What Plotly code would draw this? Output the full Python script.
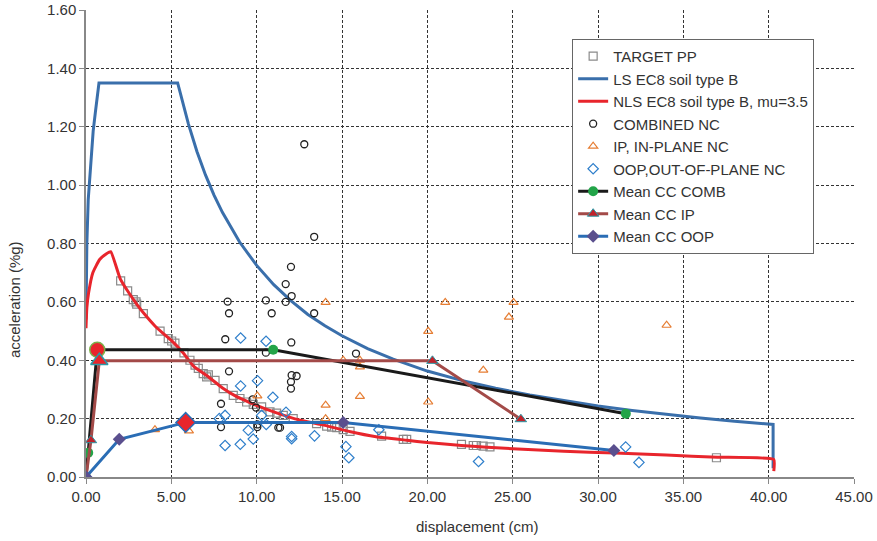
import plotly.graph_objects as go

# ---------------- data ----------------
target_x = [2.03, 2.44, 2.77, 2.93, 2.97, 3.36, 4.34, 4.82, 5.02, 5.21, 5.74, 6.09, 6.39, 6.58,
            6.87, 7.07, 7.17, 7.56, 8.04, 8.63, 9.02, 9.41, 9.80, 10.29, 10.78, 11.17, 11.56,
            12.14, 13.51, 14.10, 14.39, 14.69, 15.07, 15.47, 17.32, 18.59, 18.79, 22.0, 22.69,
            22.88, 23.27, 23.67, 36.94]
target_y = [0.672, 0.638, 0.608, 0.600, 0.592, 0.560, 0.500, 0.474, 0.466, 0.459, 0.425, 0.400,
            0.383, 0.372, 0.354, 0.343, 0.350, 0.331, 0.303, 0.280, 0.269, 0.257, 0.249, 0.240,
            0.223, 0.219, 0.211, 0.200, 0.183, 0.174, 0.171, 0.169, 0.162, 0.156, 0.140, 0.129,
            0.129, 0.112, 0.108, 0.108, 0.106, 0.103, 0.066]

ls_x = [0.0, 0.006, 0.05, 0.13, 0.27, 0.42, 0.55, 0.76, 5.37, 5.6, 6.0, 6.5, 7.0, 7.5, 8.0,
        9.0, 10.0, 11.0, 12.0, 13.0, 14.0, 15.0, 16.5, 18.0, 20.0, 22.0, 24.0, 26.0, 28.0,
        30.0, 32.0, 34.0, 36.0, 38.0, 40.26, 40.26]
ls_y = [0.54, 0.648, 0.80, 0.95, 1.08, 1.185, 1.25, 1.35, 1.35, 1.30, 1.21, 1.115, 1.035,
        0.966, 0.906, 0.805, 0.725, 0.659, 0.604, 0.557, 0.518, 0.484, 0.44, 0.404, 0.363,
        0.331, 0.304, 0.281, 0.261, 0.243, 0.228, 0.214, 0.202, 0.191, 0.18, 0.03]

nls_x = [0.0, 0.05, 0.15, 0.4, 0.8, 1.2, 1.45, 2.0, 2.5, 3.0, 3.5, 4.0, 4.5, 5.0, 5.7, 6.3,
         7.2, 8.0, 8.8, 9.8, 11.0, 12.2, 14.0, 15.5, 17.0, 18.8, 20.0, 22.0, 25.0, 28.0,
         31.0, 34.0, 37.0, 40.3, 40.3]
nls_y = [0.51, 0.58, 0.63, 0.70, 0.745, 0.765, 0.772, 0.68, 0.632, 0.59, 0.553, 0.52, 0.493,
         0.468, 0.425, 0.38, 0.342, 0.305, 0.276, 0.25, 0.223, 0.20, 0.177, 0.155, 0.138,
         0.126, 0.118, 0.108, 0.097, 0.088, 0.082, 0.075, 0.068, 0.06, 0.02]

comb_x = [12.79, 13.37, 12.01, 11.70, 12.05, 11.70, 10.54, 8.30, 8.38, 10.88, 13.37, 8.16,
          12.03, 10.54, 15.82, 8.38, 12.05, 12.34, 12.01, 12.01, 7.91, 9.76, 9.96, 7.91,
          10.04, 10.04, 11.27, 11.37]
comb_y = [1.14, 0.823, 0.72, 0.661, 0.62, 0.60, 0.605, 0.601, 0.561, 0.561, 0.561, 0.472,
          0.461, 0.426, 0.423, 0.362, 0.349, 0.346, 0.326, 0.303, 0.251, 0.266, 0.238, 0.171,
          0.180, 0.171, 0.169, 0.169]

ip_x = [0.0, 4.04, 6.03, 10.04, 14.04, 14.04, 14.04, 15.07, 16.05, 16.05, 16.05, 20.05,
        20.05, 21.05, 23.28, 24.78, 25.05, 34.02]
ip_y = [0.0, 0.162, 0.158, 0.278, 0.598, 0.246, 0.20, 0.40, 0.40, 0.377, 0.276, 0.499,
        0.257, 0.598, 0.366, 0.548, 0.598, 0.52]

oop_x = [0.0, 9.06, 10.55, 9.06, 10.05, 10.95, 7.81, 8.15, 10.29, 11.72, 10.56, 9.51, 9.80,
         8.15, 9.04, 12.05, 12.05, 13.39, 15.23, 15.40, 17.16, 23.0, 31.62, 32.4]
oop_y = [0.0, 0.476, 0.465, 0.312, 0.330, 0.273, 0.20, 0.211, 0.211, 0.222, 0.18, 0.16,
         0.130, 0.108, 0.112, 0.139, 0.131, 0.141, 0.104, 0.066, 0.162, 0.053, 0.103, 0.050]

mcomb_x = [0.0, 0.13, 0.66, 10.97, 31.63]
mcomb_y = [0.0, 0.083, 0.436, 0.436, 0.217]
mip_x = [0.0, 0.29, 0.78, 20.3, 25.48]
mip_y = [0.0, 0.126, 0.398, 0.398, 0.198]
moop_x = [0.0, 1.95, 5.84, 15.07, 30.93]
moop_y = [0.0, 0.129, 0.187, 0.187, 0.091]
# index of the emphasised (yield) point in each mean curve
yield_idx = 2

x_ticks = [0, 5, 10, 15, 20, 25, 30, 35, 40, 45]
y_ticks = [0, 0.2, 0.4, 0.6, 0.8, 1.0, 1.2, 1.4, 1.6]

# ---------------- figure ----------------
fig = go.Figure()

fig.add_trace(go.Scatter(x=target_x, y=target_y, mode="markers", name="TARGET PP",
                         marker=dict(symbol="square-open", size=8, color="#8a8a8a",
                                     line=dict(width=1.2))))
fig.add_trace(go.Scatter(x=ls_x, y=ls_y, mode="lines", name="LS EC8 soil type B",
                         line=dict(color="#3a6fab", width=3)))
fig.add_trace(go.Scatter(x=nls_x, y=nls_y, mode="lines", name="NLS EC8 soil type B, mu=3.5",
                         line=dict(color="#e8252c", width=3, shape="spline", smoothing=0.4)))
fig.add_trace(go.Scatter(x=comb_x, y=comb_y, mode="markers", name="COMBINED NC",
                         marker=dict(symbol="circle-open", size=7, color="#222222",
                                     line=dict(width=1.3))))
fig.add_trace(go.Scatter(x=ip_x, y=ip_y, mode="markers", name="IP, IN-PLANE NC",
                         marker=dict(symbol="triangle-up-open", size=8, color="#e67e34",
                                     line=dict(width=1.2))))
fig.add_trace(go.Scatter(x=oop_x, y=oop_y, mode="markers", name="OOP,OUT-OF-PLANE NC",
                         marker=dict(symbol="diamond-open", size=8, color="#2f7fcb",
                                     line=dict(width=1.2))))
fig.add_trace(go.Scatter(x=mcomb_x, y=mcomb_y, mode="lines+markers", name="Mean CC COMB",
                         line=dict(color="#1a1a1a", width=3),
                         marker=dict(symbol="circle", size=10, color="#22a448")))
fig.add_trace(go.Scatter(x=mip_x, y=mip_y, mode="lines+markers", name="Mean CC IP",
                         line=dict(color="#a34a48", width=3),
                         marker=dict(symbol="triangle-up", size=10, color="#c0232b",
                                     line=dict(color="#2a9aa8", width=1))))
fig.add_trace(go.Scatter(x=moop_x, y=moop_y, mode="lines+markers", name="Mean CC OOP",
                         line=dict(color="#2a6db5", width=3),
                         marker=dict(symbol="diamond", size=10, color="#5a4f8e")))

# emphasised yield points
fig.add_trace(go.Scatter(x=[mcomb_x[yield_idx]], y=[mcomb_y[yield_idx]], mode="markers",
                         showlegend=False,
                         marker=dict(symbol="circle", size=15, color="#e8252c",
                                     line=dict(color="#7bb04a", width=1.5))))
fig.add_trace(go.Scatter(x=[mip_x[yield_idx]], y=[mip_y[yield_idx]], mode="markers",
                         showlegend=False,
                         marker=dict(symbol="triangle-up", size=15, color="#e8252c",
                                     line=dict(color="#2a9aa8", width=1.5))))
fig.add_trace(go.Scatter(x=[moop_x[yield_idx]], y=[moop_y[yield_idx]], mode="markers",
                         showlegend=False,
                         marker=dict(symbol="diamond", size=15, color="#e8252c",
                                     line=dict(color="#2a6db5", width=1.5))))

FONT = "Liberation Sans, Arial, sans-serif"
tick_font = dict(family=FONT, size=15, color="#333333")

fig.update_layout(
    width=877, height=541,
    margin=dict(l=86, r=23, t=10, b=64),
    paper_bgcolor="white", plot_bgcolor="white",
    font=tick_font,
    showlegend=True,
    legend=dict(x=0.633, y=0.938, xanchor="left", yanchor="top",
                bgcolor="white", bordercolor="#666666", borderwidth=1,
                font=dict(family=FONT, size=15, color="#333333"),
                tracegroupgap=0, itemwidth=30),
    xaxis=dict(range=[0, 45], tickvals=x_ticks, tickformat=".2f", automargin=False,
               showgrid=True, gridcolor="#333333", griddash="3px,2px", gridwidth=1,
               showline=True, linecolor="#888888", linewidth=1.5,
               ticks="outside", ticklen=5, tickcolor="#888888",
               zeroline=False, tickfont=tick_font),
    yaxis=dict(range=[0, 1.6], tickvals=y_ticks, tickformat=".2f", automargin=False,
               showgrid=True, gridcolor="#333333", griddash="3px,2px", gridwidth=1,
               showline=True, linecolor="#888888", linewidth=1.5,
               ticks="outside", ticklen=5, tickcolor="#888888",
               zeroline=False, tickfont=tick_font),
    annotations=[
        dict(text="displacement (cm)", xref="paper", yref="paper", x=0.51, y=-0.107,
             xanchor="center", yanchor="middle", showarrow=False,
             font=dict(family=FONT, size=15, color="#333333")),
        dict(text="acceleration (%g)", xref="paper", yref="paper", x=-0.093, y=0.38,
             xanchor="center", yanchor="middle", showarrow=False, textangle=-90,
             font=dict(family=FONT, size=15, color="#333333")),
    ],
)

# remove the browser's default 8px page margin so the figure sits at the window corner
fig.write_html("out.html",
               config={"displayModeBar": False},
               post_script="document.body.style.margin='0';document.body.style.overflow='hidden';")
